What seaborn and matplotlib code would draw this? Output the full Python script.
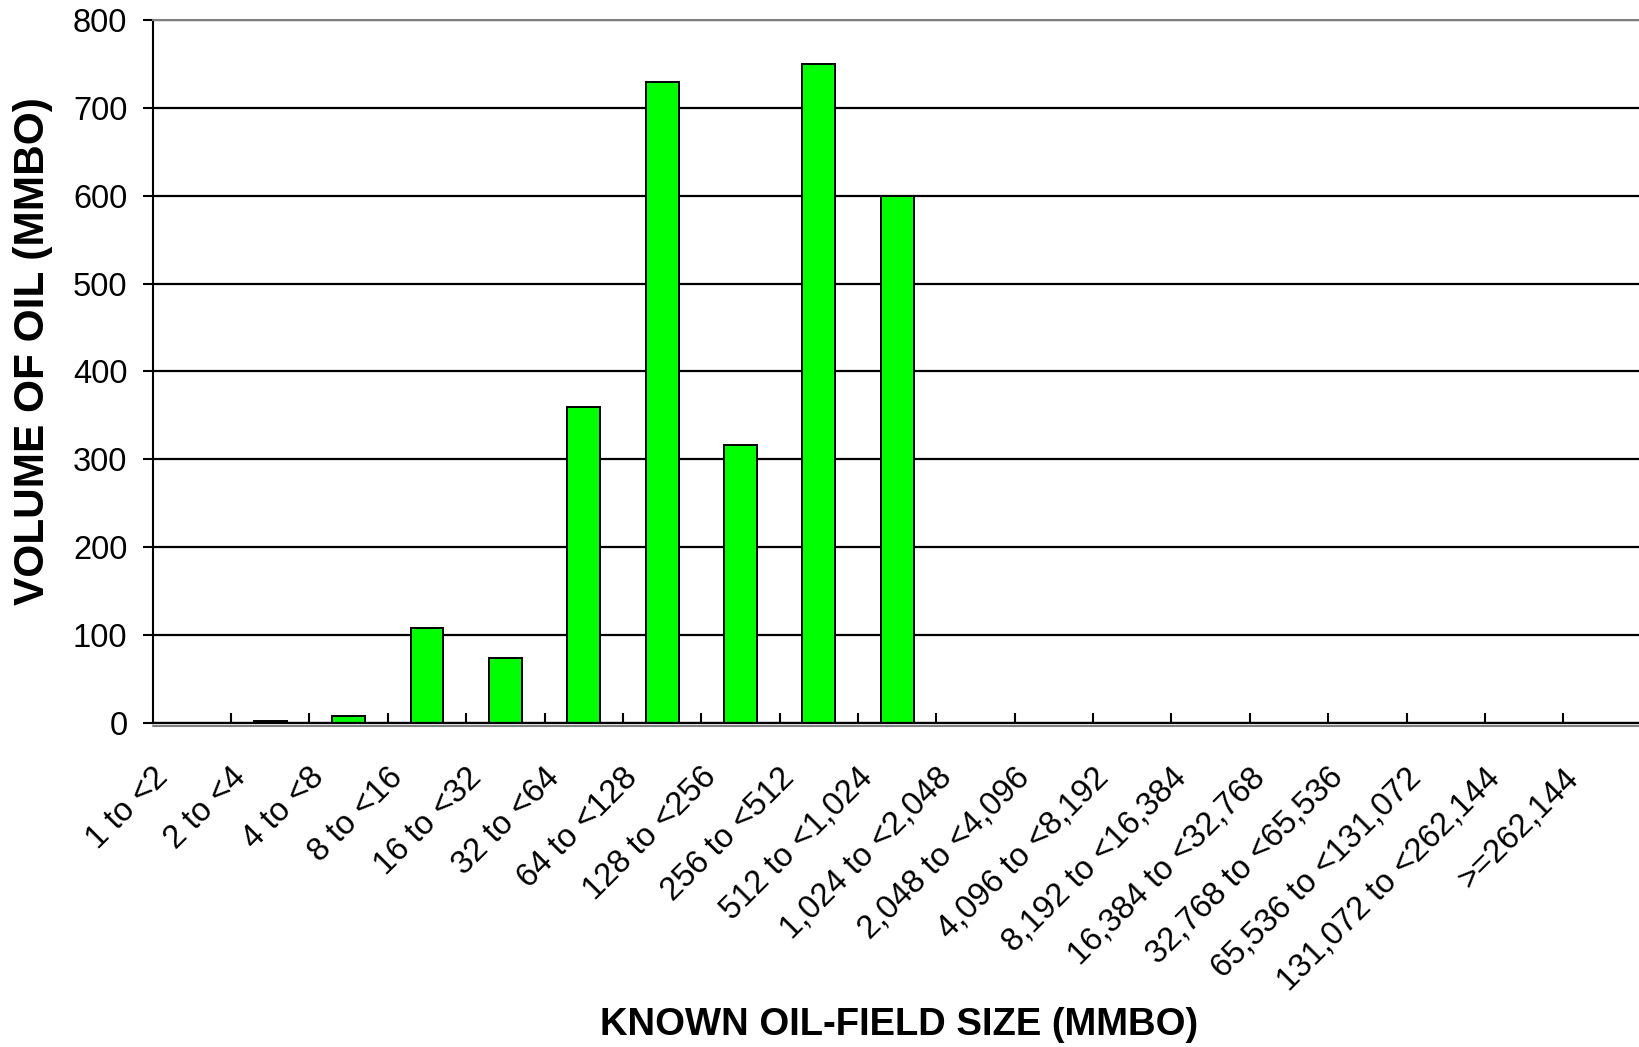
import pandas as pd
import numpy as np
import seaborn as sns
import matplotlib.pyplot as plt
from matplotlib.transforms import ScaledTranslation

# field-size classes (MMBO) and volume of oil in each class
size_class = ["1 to <2", "2 to <4", "4 to <8", "8 to <16", "16 to <32", "32 to <64",
              "64 to <128", "128 to <256", "256 to <512", "512 to <1,024",
              "1,024 to <2,048", "2,048 to <4,096", "4,096 to <8,192",
              "8,192 to <16,384", "16,384 to <32,768", "32,768 to <65,536",
              "65,536 to <131,072", "131,072 to <262,144", ">=262,144"]
oil_volume = [0, 2, 8, 108, 74, 360, 730, 316, 750, 600,
              0, 0, 0, 0, 0, 0, 0, 0, 0]
y_ticks = [0, 100, 200, 300, 400, 500, 600, 700, 800]

df = pd.DataFrame({'size': size_class, 'vol': oil_volume})

sns.set_style('white')
plt.rcParams['font.family'] = ['Liberation Sans', 'DejaVu Sans']
plt.rcParams['text.color'] = 'black'
plt.rcParams['axes.labelcolor'] = 'black'
plt.rcParams['xtick.color'] = 'black'
plt.rcParams['ytick.color'] = 'black'

fig = plt.figure(figsize=(16.39, 10.47), dpi=100)
ax = fig.add_axes([0.09317, 0.30946, 0.90843, 0.67144])

sns.barplot(data=df, x='size', y='vol', color='#00FF00', saturation=1,
            width=0.42, edgecolor='black', linewidth=1.4, ax=ax, zorder=3)

ax.set_ylim(0, 800)
ax.set_xlim(-0.5, 18.5)
ax.set_yticks(y_ticks)
ax.yaxis.grid(True, color='black', linewidth=1.6)
ax.set_axisbelow(True)

# spines: gray frame on top, black axes
ax.spines['top'].set_color('#808080')
ax.spines['top'].set_linewidth(1.5)
ax.spines['right'].set_visible(False)
ax.spines['left'].set_color('black')
ax.spines['left'].set_linewidth(1.5)
ax.spines['bottom'].set_color('black')
ax.spines['bottom'].set_linewidth(1.6)
ax.spines['bottom'].set_zorder(4)

# gray shadow just below the x axis
shadow = ax.get_yaxis_transform() + ScaledTranslation(0, -2 / 72, fig.dpi_scale_trans)
ax.plot([0, 1], [0, 0], color='#808080', linewidth=1.5, transform=shadow,
        clip_on=False, zorder=2)

ax.tick_params(axis='y', which='major', direction='out', length=7.2, width=1.5,
               color='black', labelsize=23.5, pad=11, left=True)
ax.tick_params(axis='x', which='major', length=0, labelsize=23.5, pad=28)
ax.set_xticks(np.arange(0.5, 18.5, 1.0), minor=True)
ax.tick_params(axis='x', which='minor', direction='in', length=7.2, width=1.5,
               color='black', bottom=True)

ax.set_xticks(range(len(size_class)))
ax.set_xticklabels(size_class, rotation=45, ha='right', va='top')
off = ScaledTranslation(-18 / 100, 0, fig.dpi_scale_trans)
for lbl in ax.get_xticklabels():
    lbl.set_transform(lbl.get_transform() + off)

ax.set_xlabel("KNOWN OIL-FIELD SIZE (MMBO)", fontsize=27.5, fontweight='bold')
ax.set_ylabel("VOLUME OF OIL (MMBO)", fontsize=30.5, fontweight='bold')
ax.xaxis.set_label_coords(0.5012, -0.4289)
ax.xaxis.label.set_va('center')
ax.yaxis.set_label_coords(-0.0801, 0.529)
ax.yaxis.label.set_va('center')

fig.savefig('out.png', dpi=100)
